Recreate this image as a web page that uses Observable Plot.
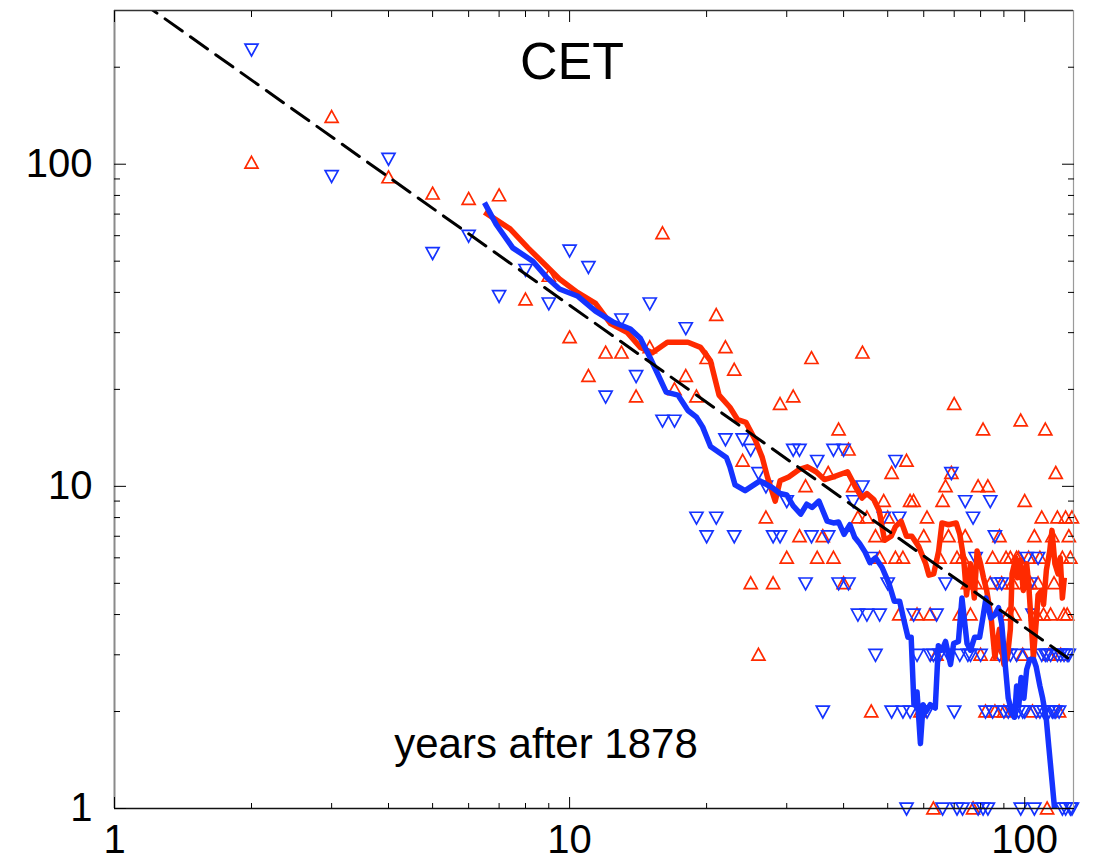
<!DOCTYPE html>
<html>
<head>
<meta charset="utf-8">
<script src="https://cdn.jsdelivr.net/npm/d3@7"></script>
<script src="https://cdn.jsdelivr.net/npm/@observablehq/plot@0.6"></script>
<style>
  body { margin: 0; background: #fff; }
  #chart svg { display: block; }
</style>
</head>
<body>
<div id="chart"></div>
<script>
// ---- data ----
const title = "CET";
const xLabel = "years after 1878";

const years = [2,3,4,5,6,7,8,9,10,11,12,13,14,15,16,17,18,19,20,21,22,23,24,25,26,27,28,29,30,31,32,33,34,35,36,37,38,39,40,41,42,43,44,45,46,47,48,49,50,51,52,53,54,55,56,57,58,59,60,61,62,63,64,65,66,67,68,69,70,71,72,73,74,75,76,77,78,79,80,81,82,83,84,85,86,87,88,89,90,91,92,93,94,95,96,97,98,99,100,101,102,103,104,105,106,107,108,109,110,111,112,113,114,115,116,117,118,119,120,121,122,123,124,125,126,127];

// warm records per year (red up-triangles)
const hotRecords = [101,140,91,81,78,80,38,45,29,22,26,26,19,27,61,20,22,19,25,34,27,23,12,5,3,8,5,18,6,19,7,10,25,6,7,11,6,15,5,13,10,8,26,8,2,7,6,9,8,11,6,4,6,12,9,9,4,2,7,8,4,1,3,6,9,10,7,11,18,6,4,6,7,5,4,1,5,10,3,15,2,10,5,6,2,3,7,5,2,6,4,6,5,4,6,6,16,3,9,5,6,5,2,7,4,5,6,8,4,15,1,3,4,7,5,11,8,2,3,6,4,8,4,7,6,8];

// cold records per year (blue down-triangles)
const coldRecords = [227,92,104,53,60,39,47,37,54,48,19,33,22,37,16,16,31,8,7,8,14,7,14,13,11,10,7,7,9,13,13,5,7,12,2,7,13,5,13,5,9,4,10,4,6,3,4,8,5,2,12,8,2,1,2,4,3,2,2,2,3,3,4,3,1,5,3,11,2,1,3,1,9,3,3,8,6,1,3,1,2,1,9,2,7,5,3,5,2,3,2,3,2,2,3,2,1,2,2,6,3,5,4,1,2,6,2,3,2,3,3,2,3,2,2,2,3,2,3,1,3,1,3,3,1,1];

// smoothed warm-record curve (red)
const hotMeanX = [6.5,7.4,8.1,8.8,9.5,10.4,11.4,12.3,13.4,14.3,15.2,16.4,18.2,19.4,20.4,21.3,22.5,23.4,24.4,25.6,26.5,27.2,28.3,29,30.3,32,33.3,34.8,36.3,38,40.8,42.4,43.9,45,46.6,47.9,49.2,50.9,52,53.5,55,56.5,58.5,60.6,61.6,63.1,64.7,65.8,68,70.7,72,73.4,74.5,76,77.5,78.6,80,81.2,82.5,84.4,86,88,90,91.6,93,93.8,95.6,96.4,97.8,99.3,101,102,103.3,104.5,106,107,109,110,111.6,113.5,114.8,116.5,118.4,119.7,121,122.2];
const hotMeanY = [71,63,55,49,44,40,37,32,30,27,26,28,28,27,24.5,19.2,17.6,16.1,15.8,13.9,12.3,10.7,9.0,10.4,10.7,11.3,11.5,11.1,10.5,10.7,11.1,10,9.2,9.5,9.1,8.4,6.8,7.0,7.5,7.8,7.0,7.0,6.5,5.75,5.3,5.35,6.3,7.7,7.6,7.7,7.1,6.0,4.6,5.75,4.5,6.3,5.75,5.2,4.75,3.9,2.95,3.6,2.8,2.95,3.6,5.35,6.0,5.2,5.9,4.75,5.75,5.0,3.8,2.95,3.8,4.6,4.75,4.3,5.5,6.3,7.3,5.75,5.35,6.0,4.5,5.2];

// smoothed cold-record curve (blue)
const coldMeanX = [6.5,6.9,7.5,8.3,8.9,9.5,10.4,11.4,12.5,13.6,14.3,15,15.6,16.3,17.3,18.2,19,19.6,20.4,22.1,22.5,23.1,24.3,26.2,27.9,29,30,31,32.2,33.2,34.1,35.3,36.8,38,39,40.1,41.3,42.3,43.4,44.6,45.7,47,48.6,50.3,51.7,53.1,54.5,55.4,56.3,57.1,58,59,59.8,60.7,62,63.6,64.6,65.8,67,68.7,69.8,71.5,72.8,74.7,76,77.6,79.6,80.9,82.2,84.2,86,87.6,89,90.6,92,93.6,95,96,97.1,98.2,99.6,101,102.6,104.7,106,108,109.5,111.6,113,114.8,116.3];
const coldMeanY = [76,65,55,50,44.6,41,39,35,32.3,30.8,28.8,25.2,22.4,19.6,19.2,17.2,16.4,15.3,13.3,12.3,11.5,10.1,9.7,10.4,9.9,9.5,9.4,8.7,8.2,8.8,8.6,9.0,7.8,7.7,7.75,7.1,7.6,6.95,6.64,6.25,5.8,6.0,5.6,5.0,4.4,4.4,3.75,3.4,3.4,2.1,2.3,1.59,2.1,2.0,2.1,2.05,3.2,3.1,3.3,2.8,3.25,3.3,4.5,3.25,3.1,3.4,3.4,3.9,4.5,3.9,4.0,4.2,3.75,2.8,2.2,2.0,1.92,2.4,2.1,2.55,2.2,2.7,2.9,2.9,2.75,2.4,2.2,1.88,1.55,1.22,1.0];

// reference line (expected number of records ~ 365/n), end points
const refX = [1, 128];
const refY = [365, 2.85];

// axes
const xDomain = [1, 128];
const yDomain = [1, 300];
const majorTicks = [1, 10, 100];
const minorTicksX = [2,3,4,5,6,7,8,9,20,30,40,50,60,70,80,90];
const minorTicksY = [2,3,4,5,6,7,8,9,20,30,40,50,60,70,80,90,200];

// ---- styling ----
const RED = "#ff2a00";
const BLUE = "#1533ff";
const FONT = "'Liberation Sans', Arial, Helvetica, sans-serif";

const symUp = {
  draw(ctx, size) {
    const s = Math.sqrt(size / Math.PI);
    ctx.moveTo(0, -s);
    ctx.lineTo(s, s * 0.82);
    ctx.lineTo(-s, s * 0.82);
    ctx.closePath();
  }
};
const symDown = {
  draw(ctx, size) {
    const s = Math.sqrt(size / Math.PI);
    ctx.moveTo(0, s);
    ctx.lineTo(s, -s * 0.82);
    ctx.lineTo(-s, -s * 0.82);
    ctx.closePath();
  }
};

const hotData = years.map((n, i) => ({n, v: hotRecords[i]})).filter(d => d.v > 0);
const coldData = years.map((n, i) => ({n, v: coldRecords[i]})).filter(d => d.v > 0);
const hotMean = hotMeanX.map((x, i) => ({x, y: hotMeanY[i]}));
const coldMean = coldMeanX.map((x, i) => ({x, y: coldMeanY[i]}));
const refLine = refX.map((x, i) => ({x, y: refY[i]}));

const blank = () => "";

const chart = Plot.plot({
  width: 1094,
  height: 864,
  marginLeft: 114,
  marginRight: 21,
  marginTop: 10,
  marginBottom: 56,
  x: {type: "log", domain: xDomain},
  y: {type: "log", domain: yDomain},
  style: {fontFamily: FONT, background: "#fff", color: "#000"},
  marks: [
    Plot.dot(hotData, {x: "n", y: "v", symbol: symUp, r: 6.5, stroke: RED, strokeWidth: 1.7, fill: "none"}),
    Plot.dot(coldData, {x: "n", y: "v", symbol: symDown, r: 6.5, stroke: BLUE, strokeWidth: 1.7, fill: "none"}),
    Plot.line(hotMean, {x: "x", y: "y", stroke: RED, strokeWidth: 5.5, strokeLinejoin: "round", strokeLinecap: "butt"}),
    Plot.line(coldMean, {x: "x", y: "y", stroke: BLUE, strokeWidth: 5.5, strokeLinejoin: "round", strokeLinecap: "butt"}),
    Plot.line(refLine, {x: "x", y: "y", stroke: "#000", strokeWidth: 3, strokeDasharray: "21,10", clip: true}),
    // frame
    Plot.ruleX([xDomain[0]], {stroke: "#8a8a8a", strokeWidth: 2}),
    Plot.ruleX([xDomain[1]], {stroke: "#9a9a9a", strokeWidth: 1.2}),
    Plot.ruleY([yDomain[0]], {stroke: "#111", strokeWidth: 1.5}),
    Plot.ruleY([yDomain[1]], {stroke: "#333", strokeWidth: 1.5}),
    // inward ticks
    Plot.axisY(majorTicks, {anchor: "left", tickSize: -12, tickFormat: blank, label: null}),
    Plot.axisY(minorTicksY, {anchor: "left", tickSize: -6, tickFormat: blank, label: null}),
    Plot.axisY(majorTicks, {anchor: "right", tickSize: -12, tickFormat: blank, label: null}),
    Plot.axisY(minorTicksY, {anchor: "right", tickSize: -6, tickFormat: blank, label: null}),
    Plot.axisX(majorTicks, {anchor: "bottom", tickSize: -11, tickFormat: blank, label: null}),
    Plot.axisX(minorTicksX, {anchor: "bottom", tickSize: -5, tickFormat: blank, label: null}),
    Plot.axisX(majorTicks, {anchor: "top", tickSize: -11, tickFormat: blank, label: null}),
    Plot.axisX(minorTicksX, {anchor: "top", tickSize: -6, tickFormat: blank, label: null}),
    // tick labels
    Plot.axisY(majorTicks, {anchor: "left", tickSize: 0, tickPadding: 22, fontSize: 40, tickFormat: d => String(d), label: null}),
    Plot.axisX(majorTicks, {anchor: "bottom", tickSize: 0, tickPadding: 16, fontSize: 40, tickFormat: d => String(d), label: null}),
    // annotations
    Plot.text([title], {text: d => d, frameAnchor: "top", dx: -22, dy: 68, lineAnchor: "bottom", fontSize: 52, fill: "#000"}),
    Plot.text([xLabel], {text: d => d, frameAnchor: "bottom", dx: -48, dy: -51, lineAnchor: "bottom", fontSize: 42, fill: "#000"})
  ]
});

document.getElementById("chart").appendChild(chart);
</script>
</body>
</html>
